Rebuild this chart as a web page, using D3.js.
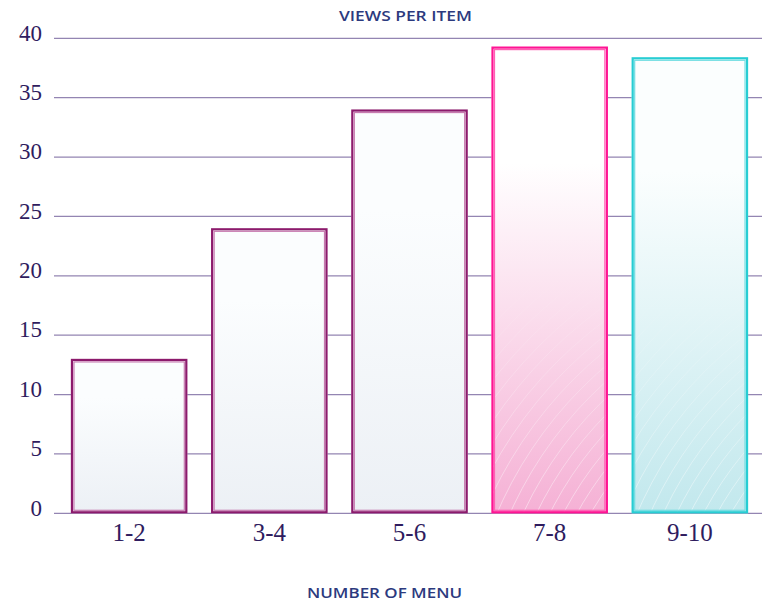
<!DOCTYPE html>
<html>
<head>
<meta charset="utf-8">
<script src="https://cdn.jsdelivr.net/npm/d3@7/dist/d3.min.js"></script>
<style>
  html, body { margin: 0; padding: 0; background: #ffffff; }
  svg { display: block; }
</style>
</head>
<body>
<div id="chart"></div>
<script>
// Menu-size buckets and the average views each one gets
const categories = ["1-2", "3-4", "5-6", "7-8", "9-10"];
const views = [13, 24, 34, 39.3, 38.4];
const yTicks = [0, 5, 10, 15, 20, 25, 30, 35, 40];
const yTickLabels = ["0", "5", "10", "15", "20", "25", "30", "35", "40"];

// Per-bar theme: border colours and gradient stops
const themes = [
  { outer: "#8c1a6c", inner: "#c77bb0", top: "#fbfdfe", bottom: "#ecf0f5", swirl: false },
  { outer: "#8c1a6c", inner: "#c77bb0", top: "#fbfdfe", bottom: "#ecf0f5", swirl: false },
  { outer: "#8c1a6c", inner: "#c77bb0", top: "#fbfdfe", bottom: "#ecf0f5", swirl: false },
  { outer: "#ff1493", inner: "#ff5fb4", top: "#ffffff", bottom: "#f5b1d5", swirl: true },
  { outer: "#27cdd3", inner: "#6fdde2", top: "#fbfefe", bottom: "#c2e8ed", swirl: true }
];

const W = 762, H = 603;
const svg = d3.select("#chart").append("svg")
  .attr("width", W).attr("height", H);

const x = d3.scaleBand()
  .domain(categories)
  .range([54, 765])
  .paddingInner(0.17)
  .paddingOuter(0.121);

const y = d3.scaleLinear()
  .domain([0, 40])
  .range([513.3, 38.3]);

const defs = svg.append("defs");

// Vertical gradients for the bar fills
themes.forEach((t, i) => {
  const g = defs.append("linearGradient")
    .attr("id", "grad" + i)
    .attr("x1", 0).attr("y1", 0).attr("x2", 0).attr("y2", 1);
  g.append("stop").attr("offset", "0%").attr("stop-color", t.top);
  g.append("stop").attr("offset", "25%").attr("stop-color", t.top);
  g.append("stop").attr("offset", "100%").attr("stop-color", t.bottom);
});

// Fade mask for the decorative swirl lines (stronger near the base)
const fade = defs.append("linearGradient")
  .attr("id", "swirlFade")
  .attr("x1", 0).attr("y1", 0).attr("x2", 0).attr("y2", 1);
fade.append("stop").attr("offset", "0%").attr("stop-color", "#fff").attr("stop-opacity", 0);
fade.append("stop").attr("offset", "45%").attr("stop-color", "#fff").attr("stop-opacity", 0);
fade.append("stop").attr("offset", "100%").attr("stop-color", "#fff").attr("stop-opacity", 1);

// Gridlines
svg.append("g")
  .selectAll("line")
  .data(yTicks)
  .join("line")
  .attr("x1", 54).attr("x2", W)
  .attr("y1", d => y(d)).attr("y2", d => y(d))
  .attr("stroke", "#9385b2")
  .attr("stroke-width", 1.2);

// Y tick labels
svg.append("g")
  .selectAll("text")
  .data(yTicks)
  .join("text")
  .attr("x", 42)
  .attr("y", d => y(d) - 3)
  .attr("text-anchor", "end")
  .attr("dominant-baseline", "middle")
  .attr("font-family", "'Liberation Serif', 'DejaVu Serif', serif")
  .attr("font-size", 23)
  .attr("fill", "#2f1c5e")
  .text((d, i) => yTickLabels[i]);

// Bars
const bars = svg.append("g")
  .selectAll("g")
  .data(categories.map((c, i) => ({ c, v: views[i], t: themes[i], i })))
  .join("g");

bars.each(function (d) {
  const g = d3.select(this);
  const x0 = x(d.c), bw = x.bandwidth();
  const yTop = y(d.v), yBot = y(0);
  const h = yBot - yTop;

  g.append("rect")
    .attr("x", x0).attr("y", yTop)
    .attr("width", bw).attr("height", h)
    .attr("fill", `url(#grad${d.i})`);

  if (d.t.swirl) {
    const clipId = "clip" + d.i;
    defs.append("clipPath").attr("id", clipId)
      .append("rect")
      .attr("x", x0).attr("y", yTop)
      .attr("width", bw).attr("height", h);
    const maskId = "mask" + d.i;
    defs.append("mask").attr("id", maskId)
      .append("rect")
      .attr("x", x0).attr("y", yTop)
      .attr("width", bw).attr("height", h)
      .attr("fill", "url(#swirlFade)");
    const cx = x0 + bw + 260, cy = yBot + 160;
    const radii = d3.range(200, 520, 12);
    g.append("g")
      .attr("clip-path", `url(#${clipId})`)
      .attr("mask", `url(#${maskId})`)
      .selectAll("circle")
      .data(radii)
      .join("circle")
      .attr("cx", cx).attr("cy", cy).attr("r", r => r)
      .attr("fill", "none")
      .attr("stroke", "#ffffff")
      .attr("stroke-opacity", 0.45)
      .attr("stroke-width", 1);
  }

  // double border: heavy outer line, lighter inner line
  g.append("rect")
    .attr("x", x0 + 1).attr("y", yTop + 1)
    .attr("width", bw - 2).attr("height", h - 2)
    .attr("fill", "none")
    .attr("stroke", d.t.outer)
    .attr("stroke-width", 2.2);
  g.append("rect")
    .attr("x", x0 + 3).attr("y", yTop + 3)
    .attr("width", bw - 6).attr("height", h - 6)
    .attr("fill", "none")
    .attr("stroke", d.t.inner)
    .attr("stroke-width", 1.2);
});

// X category labels
svg.append("g")
  .selectAll("text")
  .data(categories)
  .join("text")
  .attr("x", d => x(d) + x.bandwidth() / 2)
  .attr("y", 535)
  .attr("text-anchor", "middle")
  .attr("dominant-baseline", "middle")
  .attr("font-family", "'Liberation Serif', 'DejaVu Serif', serif")
  .attr("font-size", 25)
  .attr("fill", "#2f1c5e")
  .text(d => d);

// Titles
svg.append("text")
  .attr("x", 405.5).attr("y", 17)
  .attr("text-anchor", "middle")
  .attr("dominant-baseline", "middle")
  .attr("font-family", "'Open Sans', 'Noto Sans', sans-serif")
  .attr("font-weight", 600)
  .attr("font-size", 13.5)
  .attr("fill", "#2c3a7e")
  .attr("textLength", 133)
  .attr("lengthAdjust", "spacingAndGlyphs")
  .text("VIEWS PER ITEM");

svg.append("text")
  .attr("x", 384.5).attr("y", 594)
  .attr("text-anchor", "middle")
  .attr("dominant-baseline", "middle")
  .attr("font-family", "'Open Sans', 'Noto Sans', sans-serif")
  .attr("font-weight", 600)
  .attr("font-size", 13.5)
  .attr("fill", "#2c3a7e")
  .attr("textLength", 155)
  .attr("lengthAdjust", "spacingAndGlyphs")
  .text("NUMBER OF MENU");
</script>
</body>
</html>
